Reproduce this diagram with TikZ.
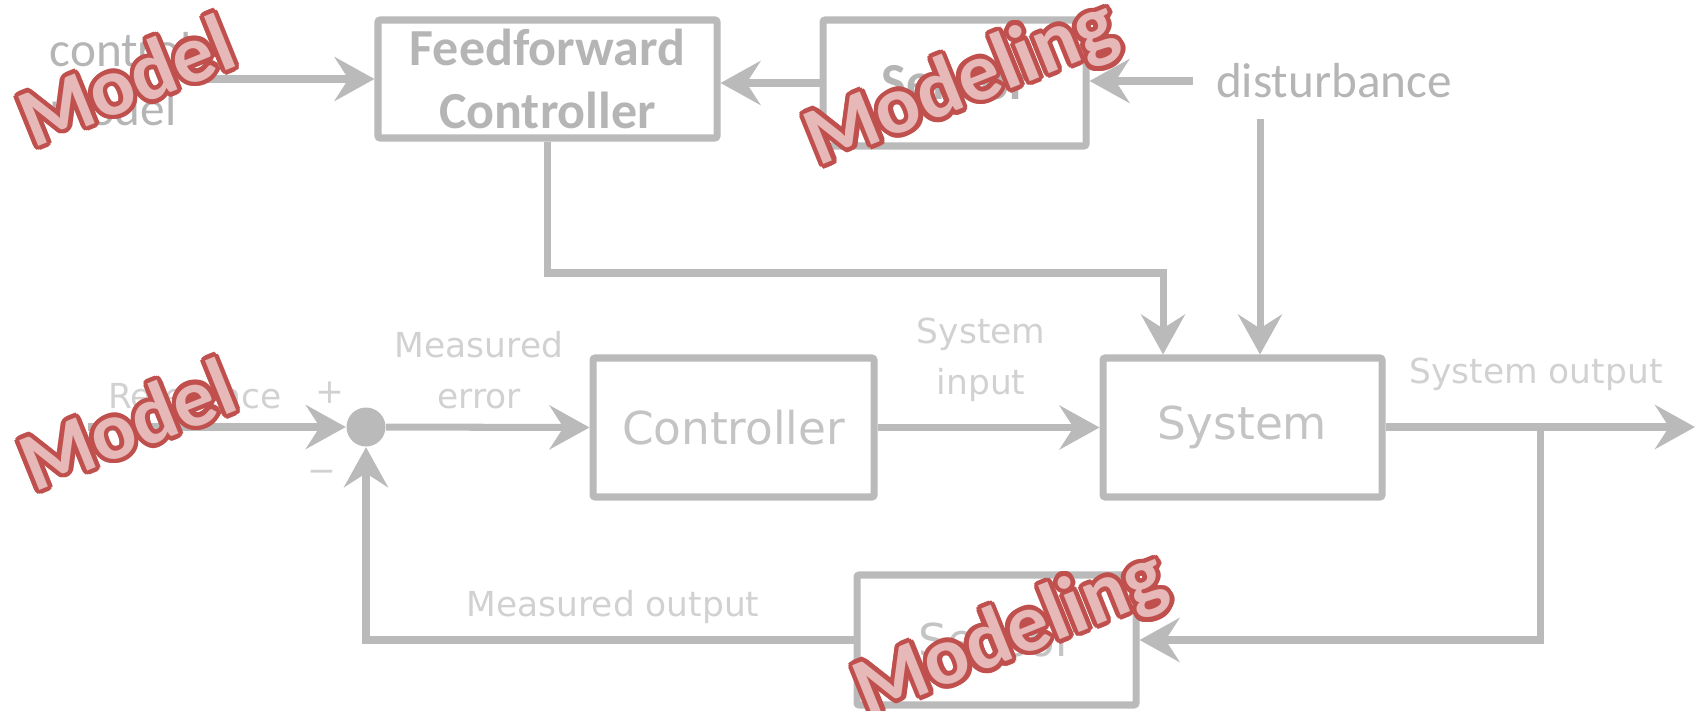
\documentclass[tikz,border=0pt]{standalone}
\usepackage{fontspec}
\setmainfont{DejaVu Sans}
\newfontfamily\calfont{Carlito}
\newfontfamily\dvfont{DejaVu Sans}
\usetikzlibrary{arrows.meta,calc}
\definecolor{lg}{HTML}{BABABA}
\definecolor{uptext}{HTML}{B5B5B5}
\definecolor{boxtext}{HTML}{C4C4C4}
\definecolor{lbltext}{HTML}{D1D1D1}
\definecolor{waline}{HTML}{C0504D}
\definecolor{wafill}{HTML}{E6B8B7}
\tikzset{
  ln/.style={line width=2pt, draw=lg},
  arr/.style={ln, -{Stealth[length=4mm,width=4.4mm,inset=1.4mm]}},
  blk/.style={draw=lg, line width=2pt, rounded corners=0.6pt, inner sep=0pt},
  uplabel/.style={font=\calfont\fontsize{14}{16.8}\selectfont, text=uptext, inner sep=0pt},
  upbold/.style={font=\calfont\bfseries\fontsize{14.8}{17.9}\selectfont, text=uptext, inner sep=0pt},
  boxlabel/.style={font=\dvfont\fontsize{12.9}{15}\selectfont, text=boxtext, inner sep=0pt},
  smlabel/.style={font=\dvfont\fontsize{9.8}{14.5}\selectfont, text=lbltext, inner sep=0pt},
  wa/.style={font=\calfont\bfseries\fontsize{23.5}{28}\selectfont, inner sep=0pt},
}
\newcommand{\wordart}[4]{%
  \foreach \k in {0,...,15} {
    \node[wa, text=waline, rotate=#3] (#1-\k) at ($(#2)+(\k*22.5:1.3pt)$) {#4};
  }
  \node[wa, text=wafill, rotate=#3] (#1) at (#2) {#4};
}
\begin{document}
\begin{tikzpicture}[x=0.1mm,y=-0.1mm]
\useasboundingbox (0,0) rectangle (1700,710);
% ---------- upper part ----------
\node[blk, minimum width=33.9mm, minimum height=11.8mm, upbold, align=center] (ff) at (547.5,79) {Feedforward\\Controller};
\node[blk, minimum width=26.3mm, minimum height=12.6mm, upbold] (sens1) at (954.5,83) {Sensor};
\node[uplabel, align=left, anchor=west] (cm) at (49,79) {control\\model};
\node[uplabel] (dist) at (1334,81) {disturbance};
\coordinate (cmstart) at (203,79);
\coordinate (dstart) at (1193,81);
\coordinate (dtop) at (1260,119);
\coordinate (ffc) at (1163,273);
\draw[arr] (cmstart) -- (cmstart -| ff.west);
\draw[arr] (sens1.west) -- (sens1.west -| ff.east);
\draw[arr] (dstart) -- (dstart -| sens1.east);
% ---------- lower part ----------
\node[circle, fill=lg, minimum size=3.9mm, inner sep=0pt] (sum) at (366,427) {};
\node[blk, minimum width=28.1mm, minimum height=13.9mm, boxlabel] (ctrl) at (733.5,427.5) {Controller};
\node[blk, minimum width=27.9mm, minimum height=13.9mm, boxlabel] (sys) at (1242.5,427.5) {System};
\node[blk, minimum width=27.9mm, minimum height=13mm, boxlabel] (sens2) at (996.5,640) {Sensor};
\coordinate (refstart) at (88,427);
\coordinate (outend) at (1695,427);
\coordinate (branch) at (1540,427);
\draw[arr] (ff.south) |- (ffc) -- (ffc |- sys.north);
\draw[arr] (dtop) -- (dtop |- sys.north);
\draw[arr] (refstart) -- (sum.west);
\draw[arr] (sum) -- (ctrl.west);
\draw[arr] (ctrl) -- (sys);
\draw[arr] (sys.east |- outend) -- (outend);
\draw[arr] (branch) |- (sens2.east);
\draw[arr] (sens2.west) -| (sum.south);
\node[smlabel] (lref) at (195,396) {Reference};
\node[smlabel] (lplus) at (330,393) {+};
\node[smlabel] (lminus) at (322,476) {−};
\node[smlabel, align=center] (lerr) at (479,370) {Measured\\error};
\node[smlabel, align=center] (lin) at (981,360) {System\\input};
\node[smlabel] (lout) at (1536,374) {System output};
\node[smlabel] (lmo) at (613,607) {Measured output};
% ---------- overlays ----------
\wordart{wa1}{126,80}{22}{Model}
\wordart{wa2}{127,424}{22}{Model}
\wordart{wa3}{962,85}{22}{Modeling}
\wordart{wa4}{1011,636}{22}{Modeling}
\end{tikzpicture}
\end{document}
